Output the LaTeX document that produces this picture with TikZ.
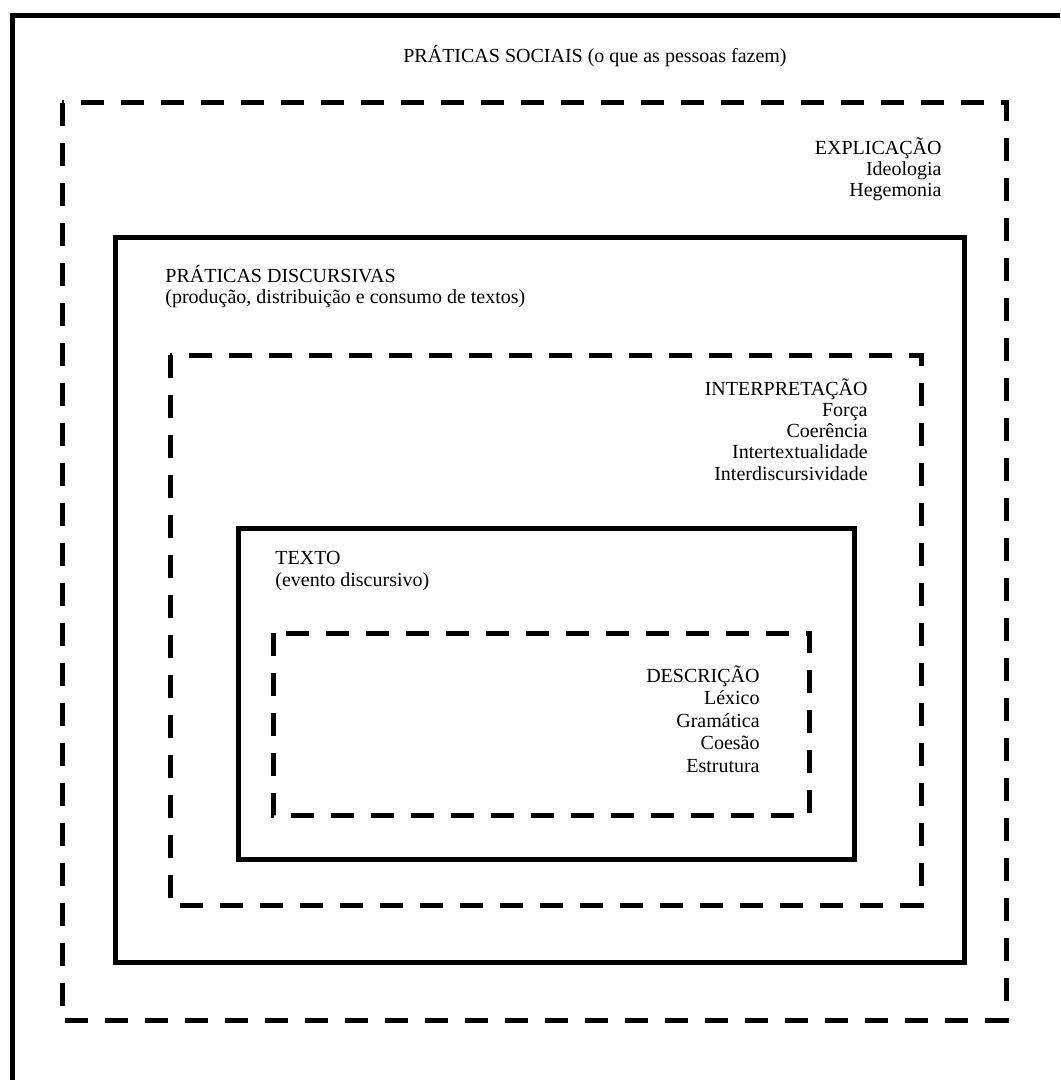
\documentclass[tikz,border=0pt]{standalone}
\usepackage{fontspec}
\setmainfont{Liberation Serif}
\usetikzlibrary{positioning}

\tikzset{
  frame/.style={line width=2.5pt},
  dashframe/.style={line width=2.5pt, dash pattern=on 11.5pt off 8.5pt},
  lbl/.style={inner sep=0pt, font=\fontsize{10}{10.6}\selectfont},
}

\begin{document}
\begin{tikzpicture}[x=0.5pt,y=-0.5pt]
%\draw[help lines, step=50] (0,0) grid (1060,1080);
\useasboundingbox (0,0) rectangle (1060,1080);
\draw [frame] (12,1080) |- (1060,16);
\draw [dashframe] (62,103) rectangle (1006,1020);
\draw [frame] (115,238) rectangle (964,962);
\draw [dashframe] (170,355) rectangle (921,905);
\draw [frame] (238,528) rectangle (854,859);
\draw [dashframe] (273,633) rectangle (809,815);

% base anchor = baseline of the last line
\node [lbl, anchor=base] (sociais) at (595,63) {PRÁTICAS SOCIAIS (o que as pessoas fazem)};
\node [lbl, anchor=base east, align=right] (explicacao) at (942,197) {EXPLICAÇÃO\\Ideologia\\Hegemonia};
\node [lbl, anchor=base west, align=left] (discursivas) at (165,304) {PRÁTICAS DISCURSIVAS\\(produção, distribuição e consumo de textos)};
\node [lbl, anchor=base east, align=right] (interpretacao) at (868,480) {INTERPRETAÇÃO\\Força\\Coerência\\Intertextualidade\\Interdiscursividade};
\node [lbl, anchor=base west, align=left] (texto) at (275,586) {TEXTO\\(evento discursivo)};
\node [lbl, anchor=base east, align=right, font=\fontsize{10}{11.2}\selectfont] (descricao) at (760,772) {DESCRIÇÃO\\Léxico\\Gramática\\Coesão\\Estrutura};

\end{tikzpicture}
\end{document}
